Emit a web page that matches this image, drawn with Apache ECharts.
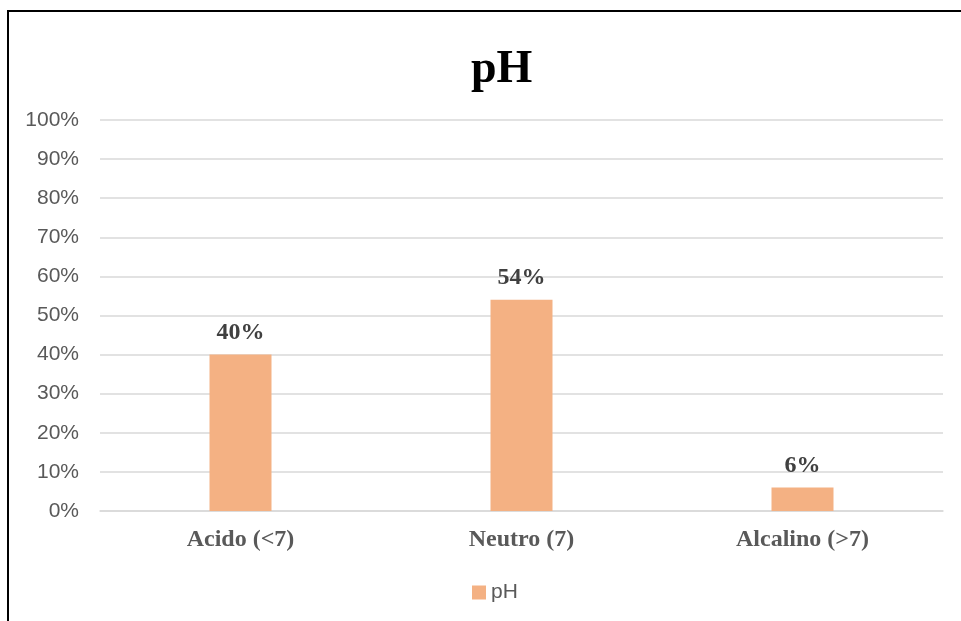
<!DOCTYPE html>
<html>
<head>
<meta charset="utf-8">
<script src="https://cdn.jsdelivr.net/npm/echarts@6/dist/echarts.min.js"></script>
<style>
  html, body { margin: 0; padding: 0; background: #fff; overflow: hidden; }
  .frame {
    position: absolute; left: 7px; top: 10px;
    width: 1000px; height: 700px;
    border: 2px solid #000; box-sizing: border-box;
  }
  #chart { position: absolute; left: 0; top: 0; width: 961px; height: 621px; }
</style>
</head>
<body>
<div class="frame"></div>
<div id="chart"></div>
<script>
// categorie e valori (percentuali)
const categories = ['Acido (<7)', 'Neutro (7)', 'Alcalino (>7)']
const phValues = [40, 54, 6]
const yTicks = [0, 10, 20, 30, 40, 50, 60, 70, 80, 90, 100]

let myChart = echarts.init(document.getElementById('chart'))
let option = {
  animation: false,
  title: {
    text: 'pH',
    left: 466,
    top: 42,
    textStyle: {
      fontFamily: 'Liberation Serif',
      fontWeight: 'bold',
      fontSize: 46,
      color: '#000'
    }
  },
  grid: {
    left: 100,
    right: 18,
    top: 120,
    bottom: 110,
    containLabel: false
  },
  legend: {
    data: ['pH'],
    top: 577,
    left: 467,
    itemWidth: 14,
    itemHeight: 14,
    itemGap: 6,
    icon: 'rect',
    textStyle: {
      color: '#595959',
      fontSize: 21,
      fontFamily: 'Liberation Sans'
    }
  },
  xAxis: {
    type: 'category',
    data: categories,
    axisTick: { show: false },
    axisLine: { lineStyle: { color: '#d9d9d9', width: 1.5 } },
    axisLabel: {
      margin: 17,
      color: '#595959',
      fontSize: 24,
      fontWeight: 'bold',
      fontFamily: 'Liberation Serif'
    }
  },
  yAxis: {
    type: 'value',
    min: 0,
    max: 100,
    interval: 10,
    axisLine: { show: false },
    axisTick: { show: false },
    axisLabel: {
      margin: 21,
      color: '#595959',
      fontSize: 21,
      fontFamily: 'Liberation Sans',
      formatter: v => yTicks.includes(v) ? v + '%' : ''
    },
    splitLine: { lineStyle: { color: '#d9d9d9', width: 1.5 } }
  },
  series: [
    {
      name: 'pH',
      type: 'bar',
      barWidth: 62,
      data: phValues,
      itemStyle: { color: '#F4B183' },
      label: {
        show: true,
        position: 'top',
        distance: 10,
        formatter: '{c}%',
        color: '#404040',
        fontSize: 24,
        fontWeight: 'bold',
        fontFamily: 'Liberation Serif'
      }
    }
  ]
}
myChart.setOption(option, true)
</script>
</body>
</html>
